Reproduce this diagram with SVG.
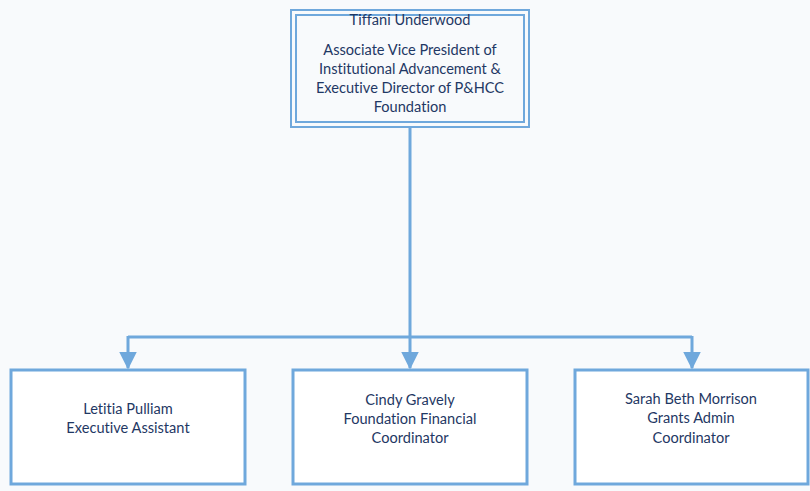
<svg xmlns="http://www.w3.org/2000/svg" width="810" height="491" viewBox="0 0 810 491">
<defs>
<style>
.box{fill:#ffffff;stroke:#6fa8dc;stroke-width:3}
.thin{fill:none;stroke:#6fa8dc;stroke-width:2}
.conn{fill:none;stroke:#6fa8dc;stroke-width:3}
.t{font-family:Lato,"Liberation Sans",sans-serif;font-size:14.6px;fill:#1f3864;text-anchor:middle;font-variant-ligatures:none}
</style>
<marker id="ah" markerWidth="6" markerHeight="6" refX="5.5" refY="3" orient="auto" markerUnits="strokeWidth" viewBox="0 0 6 6">
<path d="M0,0 L6,3 L0,6 z" fill="#6fa8dc"/>
</marker>
</defs>
<rect width="810" height="491" fill="#f8fafc"/>
<g id="connectors">
<path class="conn" d="M410,127 V337"/>
<path class="conn" d="M128,337 H692"/>
<path class="conn" d="M128,336 V368" marker-end="url(#ah)"/>
<path class="conn" d="M410,336 V368" marker-end="url(#ah)"/>
<path class="conn" d="M692,336 V368" marker-end="url(#ah)"/>
</g>
<g id="node-top">
<rect class="thin" x="291" y="10" width="238" height="117" fill="#ffffff"/>
<rect class="thin" x="296" y="15" width="228" height="107"/>
<text class="t" x="410" y="25">Tiffani Underwood</text>
<text class="t" x="410" y="55">Associate Vice President of</text>
<text class="t" x="410" y="74">Institutional Advancement &amp;</text>
<text class="t" x="410" y="93">Executive Director of P&amp;HCC</text>
<text class="t" x="410" y="112">Foundation</text>
</g>
<g id="node-letitia">
<rect class="box" x="11" y="370" width="234" height="114"/>
<text class="t" x="128" y="414">Letitia Pulliam</text>
<text class="t" x="128" y="433">Executive Assistant</text>
</g>
<g id="node-cindy">
<rect class="box" x="293" y="370" width="234" height="114"/>
<text class="t" x="410" y="405">Cindy Gravely</text>
<text class="t" x="410" y="424">Foundation Financial</text>
<text class="t" x="410" y="443">Coordinator</text>
</g>
<g id="node-sarah">
<rect class="box" x="575" y="370" width="233" height="114"/>
<text class="t" x="691" y="404">Sarah Beth Morrison</text>
<text class="t" x="691" y="423">Grants Admin</text>
<text class="t" x="691" y="443">Coordinator</text>
</g>
</svg>
